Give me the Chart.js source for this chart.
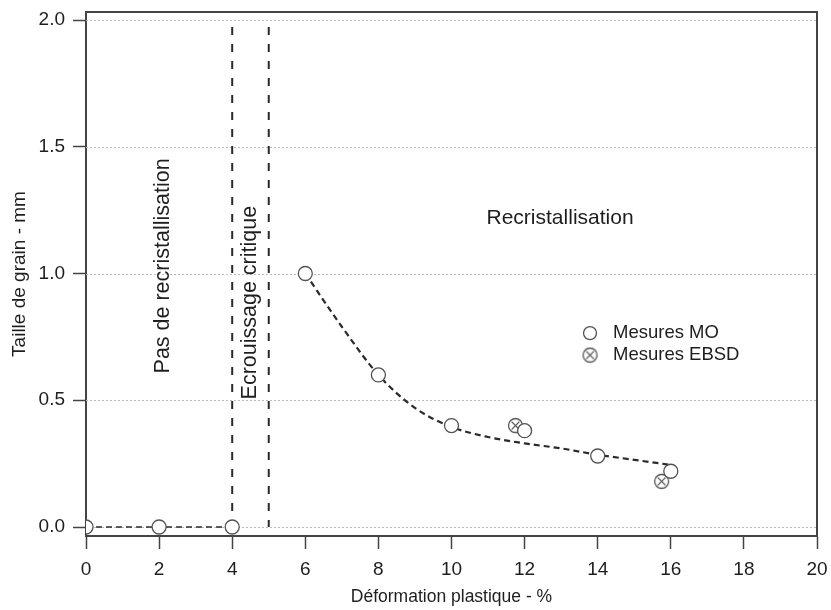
<!DOCTYPE html>
<html>
<head>
<meta charset="utf-8">
<script src="https://cdn.jsdelivr.net/npm/chart.js@4/dist/chart.umd.min.js"></script>
<style>
html,body{margin:0;padding:0;background:#fff;}
canvas{display:block;}
</style>
</head>
<body>
<canvas id="c" width="831" height="610"></canvas>
<script>
// ---- data ----
const moX = [0, 2, 4, 6, 8, 10, 12, 14, 16];
const moY = [0, 0, 0, 1.0, 0.6, 0.4, 0.38, 0.28, 0.22];
const ebsdX = [11.75, 15.75];
const ebsdY = [0.40, 0.18];
const fitX = [6, 7, 8, 9, 10, 11, 12, 13, 14, 15, 16];
const fitY = [1.0, 0.79, 0.60, 0.47, 0.395, 0.355, 0.33, 0.31, 0.285, 0.265, 0.245];
const baseX = [0, 2, 4];
const baseY = [0, 0, 0];
const limitX = [4, 5];
const limitY = [2.0, 0];
const xTicks = [0, 2, 4, 6, 8, 10, 12, 14, 16, 18, 20];
const yTicks = [0, 0.5, 1.0, 1.5, 2.0];
const seriesNames = ['Mesures MO', 'Mesures EBSD'];
const regionLabels = ['Pas de recristallisation', 'Ecrouissage critique', 'Recristallisation'];
const xTitle = 'Déformation plastique - %';
const yTitle = 'Taille de grain - mm';

const FONT = '"Liberation Sans", Arial, sans-serif';
const INK = '#1e1e1e';
const LINE = '#2a2a2a';
const MARK = '#525252';

function pts(xs, ys) { return xs.map((x, i) => ({x: x, y: ys[i]})); }

function crossCircle(r) {
  const c = document.createElement('canvas');
  const s = Math.ceil(r * 2 + 3);
  c.width = s; c.height = s;
  const g = c.getContext('2d');
  const m = s / 2;
  g.fillStyle = '#fff';
  g.strokeStyle = MARK;
  g.lineWidth = 1.3;
  g.beginPath(); g.arc(m, m, r, 0, Math.PI * 2); g.fill(); g.stroke();
  const d = r * 0.55;
  g.beginPath();
  g.moveTo(m - d, m - d); g.lineTo(m + d, m + d);
  g.moveTo(m + d, m - d); g.lineTo(m - d, m + d);
  g.stroke();
  return c;
}
const ebsdStyle = crossCircle(7);

const decor = {
  id: 'decor',
  beforeDatasetsDraw(chart) {
    const {ctx, chartArea: a, scales: {y}} = chart;
    ctx.save();
    ctx.strokeStyle = '#bbb';
    ctx.lineWidth = 1;
    ctx.setLineDash([2, 2]);
    yTicks.forEach(v => {
      const py = Math.round(y.getPixelForValue(v)) + 0.5;
      ctx.beginPath(); ctx.moveTo(a.left, py); ctx.lineTo(a.right, py); ctx.stroke();
    });
    ctx.restore();
  },
  afterDraw(chart) {
    const {ctx, chartArea: a, scales: {x, y}} = chart;
    ctx.save();
    // frame top/right
    ctx.strokeStyle = '#444';
    ctx.lineWidth = 2;
    ctx.beginPath();
    ctx.moveTo(a.left, a.top); ctx.lineTo(a.right, a.top); ctx.lineTo(a.right, a.bottom);
    ctx.stroke();
    // region labels
    ctx.fillStyle = INK;
    ctx.font = '21px ' + FONT;
    ctx.textAlign = 'center';
    ctx.textBaseline = 'middle';
    ctx.fillText(regionLabels[2], x.getPixelForValue(12.97), y.getPixelForValue(1.22));
    ctx.font = '21.5px ' + FONT;
    [[0, 2.1, 1.03], [1, 4.5, 0.885]].forEach(([i, vx, vy]) => {
      ctx.save();
      ctx.translate(x.getPixelForValue(vx), y.getPixelForValue(vy));
      ctx.rotate(-Math.PI / 2);
      ctx.fillText(regionLabels[i], 0, 0);
      ctx.restore();
    });
    // legend
    const lx = x.getPixelForValue(13.79);
    const ly0 = y.getPixelForValue(0.765);
    const ly1 = ly0 + 22;
    ctx.fillStyle = '#fff';
    ctx.strokeStyle = MARK;
    ctx.lineWidth = 1.3;
    ctx.beginPath(); ctx.arc(lx, ly0, 6.5, 0, Math.PI * 2); ctx.fill(); ctx.stroke();
    ctx.drawImage(ebsdStyle, lx - ebsdStyle.width / 2, ly1 - ebsdStyle.height / 2);
    ctx.fillStyle = INK;
    ctx.font = '18.5px ' + FONT;
    ctx.textAlign = 'left';
    ctx.fillText(seriesNames[0], lx + 23, ly0);
    ctx.fillText(seriesNames[1], lx + 23, ly1);
    ctx.restore();
  }
};

new Chart(document.getElementById('c'), {
  type: 'scatter',
  data: {
    datasets: [
      {
        label: seriesNames[0],
        data: pts(moX, moY),
        pointStyle: 'circle',
        pointRadius: 7,
        pointBackgroundColor: '#fff',
        pointBorderColor: MARK,
        pointBorderWidth: 1.3,
        showLine: false
      },
      {
        label: seriesNames[1],
        data: pts(ebsdX, ebsdY),
        pointStyle: ebsdStyle,
        showLine: false
      },
      {
        data: pts(fitX, fitY),
        showLine: true,
        pointRadius: 0,
        borderColor: LINE,
        borderWidth: 2.2,
        borderDash: [6, 4],
        cubicInterpolationMode: 'monotone',
        fill: false
      },
      {
        data: pts(baseX, baseY),
        showLine: true,
        pointRadius: 0,
        borderColor: LINE,
        borderWidth: 1.6,
        borderDash: [6, 4],
        fill: false
      },
      {
        data: pts([limitX[0], limitX[0]], limitY),
        showLine: true,
        pointRadius: 0,
        borderColor: LINE,
        borderWidth: 2,
        borderDash: [8, 9],
        borderDashOffset: 10,
        fill: false
      },
      {
        data: pts([limitX[1], limitX[1]], limitY),
        showLine: true,
        pointRadius: 0,
        borderColor: LINE,
        borderWidth: 2,
        borderDash: [8, 9],
        borderDashOffset: 10,
        fill: false
      }
    ]
  },
  options: {
    responsive: false,
    animation: false,
    devicePixelRatio: 1,
    layout: {autoPadding: false, padding: {left: 0, top: 12, right: 14, bottom: 0}},
    plugins: {legend: {display: false}, tooltip: {enabled: false}},
    scales: {
      x: {
        type: 'linear',
        min: 0,
        max: 20,
        afterBuildTicks: s => { s.ticks = xTicks.map(v => ({value: v})); },
        afterFit: s => { s.height = 74; s.paddingLeft = 0; s.paddingRight = 0; },
        grid: {drawOnChartArea: false, drawTicks: true, tickLength: 13, tickColor: '#444', tickWidth: 1.5},
        border: {display: true, color: '#444', width: 2},
        ticks: {color: INK, font: {family: FONT, size: 19}, padding: 9, maxRotation: 0,
          callback: v => String(v)},
        title: {display: true, text: xTitle, color: INK, font: {family: FONT, size: 17.5}, padding: {top: 0, bottom: 2}}
      },
      y: {
        type: 'linear',
        min: -0.0355,
        max: 2.0316,
        afterBuildTicks: s => { s.ticks = yTicks.map(v => ({value: v})); },
        afterFit: s => { s.width = 86; s.paddingTop = 0; s.paddingBottom = 0; },
        grid: {drawOnChartArea: false, drawTicks: true, tickLength: 13, tickColor: '#444', tickWidth: 1.5},
        border: {display: true, color: '#444', width: 2},
        ticks: {color: INK, font: {family: FONT, size: 19}, padding: 8,
          callback: v => Number(v).toFixed(1)},
        title: {display: true, text: yTitle, color: INK, font: {family: FONT, size: 19}, padding: {top: 8, bottom: 0}}
      }
    }
  },
  plugins: [decor]
});
</script>
</body>
</html>
